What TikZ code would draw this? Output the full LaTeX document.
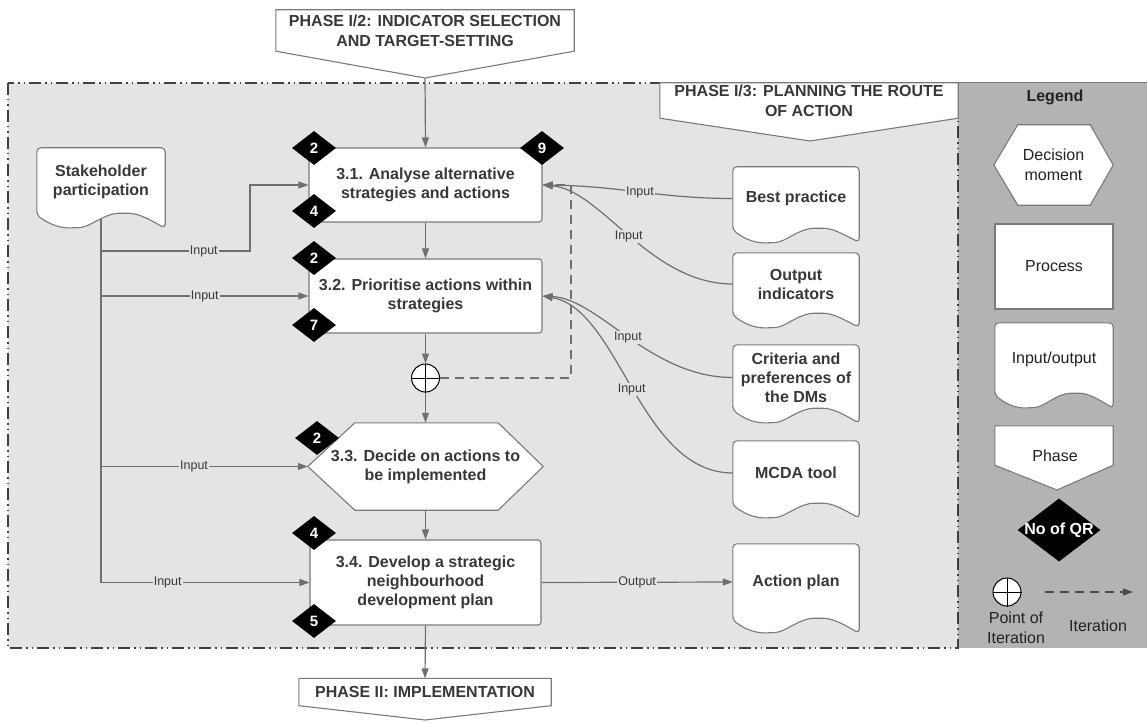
\documentclass[tikz,border=0pt]{standalone}
\usepackage{fontspec}
\setmainfont{Liberation Sans}
\usetikzlibrary{shapes.geometric,arrows.meta,calc}
\definecolor{bgA}{HTML}{E4E4E4}
\definecolor{bgL}{HTML}{B3B3B3}
\definecolor{lc}{HTML}{6F6F6F}
\definecolor{bc}{HTML}{7A7A7A}
\definecolor{tc}{HTML}{383838}
\definecolor{lt}{HTML}{222222}
\pgfdeclarelayer{bg}\pgfdeclarelayer{edges}\pgfdeclarelayer{shapes}
\pgfsetlayers{bg,edges,shapes,main}

\newcommand\docpath[2]{%
\begin{pgfonlayer}{shapes}
\draw[shp,rounded corners=4pt] (#1.south west) -- (#1.north west) -- (#1.north east) -- ($(#1.south east)+(0,#2)$)
 .. controls ($(#1.south west)!0.9!(#1.south east)+(0,6)$) and ($(#1.south west)!0.8!(#1.south east)+(0,-2)$) .. ($(#1.south west)!0.68!(#1.south east)+(0,-2)$)
 .. controls ($(#1.south west)!0.52!(#1.south east)+(0,-2)$) and ($(#1.south west)!0.42!(#1.south east)+(0,12)$) .. ($(#1.south west)!0.3!(#1.south east)+(0,12.5)$)
 .. controls ($(#1.south west)!0.2!(#1.south east)+(0,13)$) and ($(#1.south west)!0.12!(#1.south east)+(0,11)$) .. (#1.south west) -- cycle;
\end{pgfonlayer}}
\newcommand\phasepath[2]{%
\begin{pgfonlayer}{shapes}
\draw[shp] (#1.north west) -- (#1.north east) -- (#1.south east) -- (#2) -- (#1.south west) -- cycle;
\end{pgfonlayer}}
\newcommand\hexpath[3]{%
\begin{pgfonlayer}{shapes}
\draw[shp] (#1.west) -- ([xshift=#2]#1.north west) -- ([xshift=-#3]#1.north east) -- (#1.east) -- ([xshift=-#3]#1.south east) -- ([xshift=#2]#1.south west) -- cycle;
\end{pgfonlayer}}

\begin{document}
\begin{tikzpicture}[x=1pt,y=-1pt,
  txt/.style={font=\fontsize{16}{19}\selectfont\bfseries, text=tc, align=center},
  ltxt/.style={font=\fontsize{16}{20}\selectfont, text=lt, align=center},
  box/.style={txt, inner sep=0pt, rectangle},
  proc/.style={box, draw=bc, fill=white, rounded corners=3pt, line width=1.1pt},
  shp/.style={draw=bc, fill=white, line width=1.1pt},
  phs/.style={box, font=\fontsize{16}{20}\selectfont\bfseries},
  qr/.style={diamond, fill=black, text=white, font=\fontsize{15}{15}\selectfont\bfseries, minimum width=44pt, minimum height=34pt, inner sep=0pt},
  con/.style={draw=lc, line width=1.2pt},
  arr/.style={con, -{Triangle[length=10pt,width=7pt]}},
  dasharr/.style={arr, dash pattern=on 9pt off 6pt},
  lbl/.style={font=\fontsize{12.5}{14}\selectfont, text=tc, fill=bgA, inner sep=1pt},
  frame/.style={draw=black!75, line width=1.4pt, dash pattern=on 12pt off 4pt on 1.5pt off 4pt on 1.5pt off 4pt},
  poicirc/.style={circle, draw=black, fill=white, minimum size=28pt, inner sep=0pt, line width=1pt}
]
\useasboundingbox (0,0) rectangle (1147,722);

\begin{pgfonlayer}{bg}
\fill[bgA] (8,83) rectangle (958,648);
\fill[bgL] (958,82) rectangle (1147,648);
\draw[bc, line width=0.8pt] (958,82) -- (1147,82);
\draw[frame] (8,83) rectangle (958,648);
\end{pgfonlayer}

% ---------- phases ----------
\node[phs, minimum width=298pt, minimum height=41pt] (ph12) at (425,30.5) {PHASE I/2: INDICATOR SELECTION\\AND TARGET-SETTING};
\coordinate (ph12t) at (425,78);
\phasepath{ph12}{ph12t}
\node[phs, minimum width=298pt, minimum height=35pt] (ph13) at (809,100.5) {PHASE I/3: PLANNING THE ROUTE\\OF ACTION};
\coordinate (ph13t) at (810,141);
\phasepath{ph13}{ph13t}
\node[phs, minimum width=252pt, minimum height=27pt] (ph2) at (425,692) {PHASE II: IMPLEMENTATION};
\coordinate (ph2t) at (425,720);
\phasepath{ph2}{ph2t}

% ---------- process chain ----------
\node[proc, minimum width=233pt, minimum height=74pt] (a31) at (425.5,185) {3.1. Analyse alternative\\strategies and actions};
\node[proc, minimum width=233pt, minimum height=74pt] (a32) at (425.5,296) {3.2. Prioritise actions within\\strategies};
\node[poicirc] (poi) at (425.5,378) {};
\draw[black, line width=1pt] (poi.north) -- (poi.south) (poi.west) -- (poi.east);
\node[box, minimum width=235pt, minimum height=87pt] (a33) at (425.5,466.5) {3.3. Decide on actions to\\be implemented};
\hexpath{a33}{47pt}{45pt}
\node[proc, minimum width=231pt, minimum height=85pt] (a34) at (425.5,582.5) {3.4. Develop a strategic\\neighbourhood\\development plan};

% ---------- QR diamonds ----------
\node[qr] (q1) at (314,148) {2};
\node[qr] (q2) at (542,148) {9};
\node[qr] (q3) at (314,211) {4};
\node[qr] (q4) at (314,258) {2};
\node[qr] (q5) at (314,325) {7};
\node[qr] (q6) at (317,438) {2};
\node[qr] (q7) at (314,533) {4};
\node[qr] (q8) at (314,621) {5};

% ---------- documents ----------
\node[box, minimum width=128pt, minimum height=67pt] (sp) at (101,181.5) {Stakeholder\\participation};
\docpath{sp}{13}
\node[box, minimum width=126pt, minimum height=63pt] (bp) at (796,198.5) {Best practice};
\docpath{bp}{12}
\node[box, minimum width=126pt, minimum height=62pt] (oi) at (796,284) {Output\\indicators};
\docpath{oi}{12}
\node[box, minimum width=126pt, minimum height=65pt] (cr) at (796,377.5) {Criteria and\\preferences of\\the DMs};
\docpath{cr}{13}
\node[box, minimum width=126pt, minimum height=64pt] (mc) at (796,473) {MCDA tool};
\docpath{mc}{13}
\node[box, minimum width=126pt, minimum height=76pt] (ap) at (796,582) {Action plan};
\docpath{ap}{13}

% ---------- connectors ----------
\coordinate (j1) at (101,251);
\coordinate (j1b) at (250,251);
\coordinate (itc) at (571,185);
\begin{pgfonlayer}{edges}
\draw[arr] (ph12t) -- (a31.north);
\draw[arr] (a31.south) -- (a32.north);
\draw[arr] (a32.south) -- (poi.north);
\draw[arr] (poi.south) -- (a33.north);
\draw[arr] (a33.south) -- (a34.north);
\draw[arr] (a34.south) -- (ph2.north);
\draw[arr] (a34.east) -- node[lbl]{Output} (ap.west);
\draw[con] (sp.south) -- (sp.south |- a34.west);
\draw[arr] (j1) -- node[lbl,pos=0.69]{Input} (j1b) |- (a31.west);
\draw[arr] (sp.south |- a32.west) -- node[lbl,pos=0.5]{Input} (a32.west);
\draw[arr] (sp.south |- a33.west) -- node[lbl,pos=0.45]{Input} (a33.west);
\draw[arr] (sp.south |- a34.west) -- node[lbl,pos=0.32]{Input} (a34.west);
\draw[arr] (bp.west) .. controls +(-73,0) and +(79,1) .. node[lbl]{Input} (a31.east);
\draw[arr] (oi.west) .. controls +(-83,0) and +(59,5) .. node[lbl]{Input} (a31.east);
\draw[arr] (cr.west) .. controls +(-83,0) and +(57,3) .. node[lbl]{Input} (a32.east);
\draw[arr] (mc.west) .. controls +(-93,0) and +(77,13) .. node[lbl]{Input} (a32.east);
\draw[dasharr] (poi.east) -| (itc) -- (a31.east);
\end{pgfonlayer}

% ---------- legend ----------
\node[ltxt, font=\fontsize{16}{20}\selectfont\bfseries] (lgt) at (1055,97) {Legend};
\node[ltxt, inner sep=0pt, minimum width=119pt, minimum height=80pt] (lhex) at (1053.5,165) {Decision\\moment};
\hexpath{lhex}{24pt}{23pt}
\node[ltxt, draw=bc, fill=white, line width=1.1pt, inner sep=0pt, minimum width=118pt, minimum height=85pt] (lproc) at (1054,266.5) {Process};
\node[ltxt, inner sep=0pt, minimum width=118pt, minimum height=72pt] (lio) at (1054,359) {Input/output};
\docpath{lio}{13}
\node[inner sep=0pt, minimum width=118pt, minimum height=39pt] (lph) at (1054,445.5) {};
\coordinate (lpht) at (1057,490);
\phasepath{lph}{lpht}
\node[ltxt] (lphtxt) at (1055,456) {Phase};
\node[qr, minimum width=83pt, minimum height=63pt] (lqr) at (1059,530) {};
\node[font=\fontsize{16}{16}\selectfont\bfseries, text=white, inner sep=0pt] (lqrt) at (lqr.center) {No of QR};
\node[poicirc] (lpoi) at (1007,592) {};
\draw[black, line width=1pt] (lpoi.north) -- (lpoi.south) (lpoi.west) -- (lpoi.east);
\coordinate (itA) at (1045,592);
\coordinate (itB) at (1133,592);
\draw[dasharr, draw=black!70] (itA) -- (itB);
\node[ltxt, inner sep=0pt] (lpt) at (1016,627.5) {Point of\\Iteration};
\node[ltxt, inner sep=0pt] (lit) at (1098,626) {Iteration};
\end{tikzpicture}
\end{document}
